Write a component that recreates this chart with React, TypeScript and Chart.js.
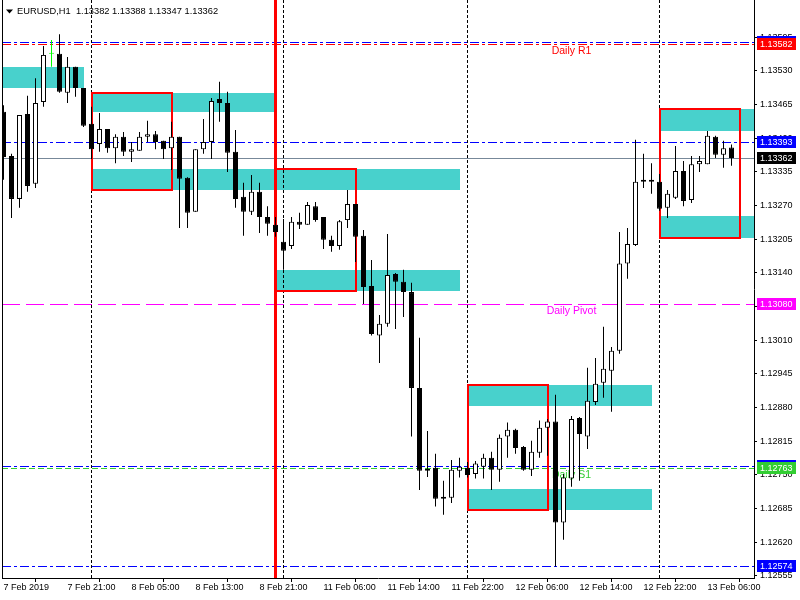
import React, { useEffect, useRef } from 'react';
import { Chart, registerables } from 'chart.js';

Chart.register(...registerables);

// ---------------- data ----------------
const symbolTitle = 'EURUSD,H1';

const timeLabels = [
  '7 Feb 2019', '7 Feb 21:00', '8 Feb 05:00', '8 Feb 13:00', '8 Feb 21:00', '11 Feb 06:00',
  '11 Feb 14:00', '11 Feb 22:00', '12 Feb 06:00', '12 Feb 14:00', '12 Feb 22:00', '13 Feb 06:00',
];
const timeLabelBars = [0, 8, 16, 24, 32, 40, 48, 56, 64, 72, 80, 88];

const opens = [
  1.13451, 1.13366, 1.13283, 1.13447, 1.13312, 1.13470, 1.13563, 1.13563, 1.13488, 1.13538,
  1.13497, 1.13428, 1.13389, 1.13418, 1.13381, 1.13403, 1.13374, 1.13376, 1.13403, 1.13408,
  1.13395, 1.13381, 1.13403, 1.13324, 1.13258, 1.13379, 1.13393, 1.13476, 1.13468, 1.13374,
  1.13287, 1.13258, 1.13297, 1.13248, 1.13233, 1.13200, 1.13192, 1.13239, 1.13233, 1.13269,
  1.13248, 1.13204, 1.13192, 1.13242, 1.13273, 1.13212, 1.13115, 1.13019, 1.13042, 1.13138,
  1.13123, 1.13103, 1.12918, 1.12762, 1.12764, 1.12708, 1.12706, 1.12758, 1.12764, 1.12752,
  1.12766, 1.12783, 1.12760, 1.12824, 1.12837, 1.12804, 1.12760, 1.12793, 1.12841, 1.12853,
  1.12658, 1.12743, 1.12860, 1.12824, 1.12891, 1.12928, 1.12951, 1.12990, 1.13158, 1.13194,
  1.13320, 1.13320, 1.13316, 1.13266, 1.13285, 1.13337, 1.13281, 1.13350, 1.13350, 1.13403,
  1.13368, 1.13382,
];
const highs = [
  1.13464, 1.13370, 1.13445, 1.13482, 1.13516, 1.13578, 1.13590, 1.13601, 1.13557, 1.13538,
  1.13497, 1.13461, 1.13449, 1.13418, 1.13408, 1.13412, 1.13393, 1.13412, 1.13434, 1.13414,
  1.13395, 1.13432, 1.13403, 1.13325, 1.13379, 1.13437, 1.13478, 1.13509, 1.13490, 1.13416,
  1.13314, 1.13329, 1.13314, 1.13269, 1.13248, 1.13244, 1.13248, 1.13256, 1.13277, 1.13277,
  1.13248, 1.13212, 1.13242, 1.13300, 1.13273, 1.13223, 1.13165, 1.13059, 1.13215, 1.13140,
  1.13146, 1.13121, 1.13015, 1.12835, 1.12791, 1.12739, 1.12779, 1.12783, 1.12775, 1.12777,
  1.12791, 1.12795, 1.12828, 1.12851, 1.12839, 1.12806, 1.12816, 1.12855, 1.12858, 1.12905,
  1.12752, 1.12864, 1.12862, 1.12957, 1.12976, 1.13036, 1.12997, 1.13219, 1.13227, 1.13397,
  1.13370, 1.13352, 1.13331, 1.13300, 1.13385, 1.13356, 1.13366, 1.13366, 1.13414, 1.13405,
  1.13395, 1.13388,
];
const lows = [
  1.13320, 1.13246, 1.13266, 1.13297, 1.13304, 1.13461, 1.13538, 1.13488, 1.13468, 1.13480,
  1.13422, 1.13360, 1.13374, 1.13372, 1.13352, 1.13366, 1.13354, 1.13376, 1.13393, 1.13379,
  1.13360, 1.13339, 1.13227, 1.13227, 1.13258, 1.13370, 1.13360, 1.13432, 1.13335, 1.13266,
  1.13212, 1.13252, 1.13217, 1.13212, 1.13210, 1.13146, 1.13186, 1.13225, 1.13233, 1.13239,
  1.13186, 1.13181, 1.13185, 1.13227, 1.13161, 1.13080, 1.13019, 1.12966, 1.13036, 1.13032,
  1.13055, 1.12824, 1.12721, 1.12746, 1.12689, 1.12673, 1.12696, 1.12745, 1.12745, 1.12743,
  1.12743, 1.12721, 1.12737, 1.12783, 1.12791, 1.12758, 1.12748, 1.12783, 1.12787, 1.12573,
  1.12625, 1.12727, 1.12739, 1.12800, 1.12885, 1.12899, 1.12872, 1.12984, 1.13129, 1.13192,
  1.13304, 1.13293, 1.13260, 1.13246, 1.13283, 1.13269, 1.13275, 1.13335, 1.13350, 1.13362,
  1.13343, 1.13347,
];
const closes = [
  1.13364, 1.13283, 1.13445, 1.13308, 1.13468, 1.13561, 1.13563, 1.13490, 1.13538, 1.13497,
  1.13424, 1.13379, 1.13418, 1.13381, 1.13403, 1.13374, 1.13379, 1.13403, 1.13408, 1.13393,
  1.13379, 1.13403, 1.13322, 1.13256, 1.13379, 1.13393, 1.13472, 1.13468, 1.13372, 1.13283,
  1.13258, 1.13297, 1.13248, 1.13235, 1.13219, 1.13183, 1.13239, 1.13233, 1.13271, 1.13242,
  1.13204, 1.13192, 1.13240, 1.13273, 1.13210, 1.13113, 1.13022, 1.13042, 1.13136, 1.13123,
  1.13103, 1.12918, 1.12758, 1.12758, 1.12704, 1.12704, 1.12760, 1.12766, 1.12750, 1.12772,
  1.12783, 1.12760, 1.12822, 1.12837, 1.12802, 1.12760, 1.12795, 1.12841, 1.12853, 1.12658,
  1.12745, 1.12858, 1.12829, 1.12893, 1.12926, 1.12955, 1.12990, 1.13158, 1.13196, 1.13316,
  1.13316, 1.13316, 1.13264, 1.13293, 1.13337, 1.13279, 1.13350, 1.13356, 1.13405, 1.13368,
  1.13381, 1.13362,
];

const priceTicks = [
  1.12555, 1.12620, 1.12685, 1.12750, 1.12815, 1.12880, 1.12945, 1.13010, 1.13075,
  1.13140, 1.13205, 1.13270, 1.13335, 1.13400, 1.13465, 1.13530, 1.13595,
];

// daily pivot levels
const pivotNames = ['Daily R1', 'Daily Pivot', 'Daily S1'];
const pivotLevels = [1.13582, 1.13080, 1.12763];
const pivotLabelBar = 71;

// other horizontal levels (blue dash-dot)
const blueLevels = [1.13586, 1.13393, 1.12768, 1.12574];

// filled zones (bar index from/to, price high/low)
const zoneFrom = [-2, 11, 11, 34, 58, 58, 82, 82];
const zoneTo = [10, 34, 57, 57, 81, 81, 100, 100];
const zoneHigh = [1.13538, 1.13488, 1.13341, 1.13146, 1.12924, 1.12723, 1.13457, 1.13249];
const zoneLow = [1.13498, 1.13450, 1.13300, 1.13105, 1.12883, 1.12683, 1.13414, 1.13208];

// red outlined boxes
const boxFrom = [11, 34, 58, 82];
const boxTo = [21, 44, 68, 92];
const boxHigh = [1.13488, 1.13341, 1.12924, 1.13457];
const boxLow = [1.13300, 1.13105, 1.12683, 1.13208];

// day separators and marker line (bar index)
const separatorBars = [11, 35, 58, 82];
const markerBar = 34;

// ---------------- view / style ----------------
const X_MIN = -0.1875;
const X_MAX = 93.8125;
const Y_MIN = 1.12551;
const Y_MAX = 1.13667;

const FONT = "'Liberation Sans', Arial, sans-serif";
const ZONE_FILL = '#48D1CC';
const RED = '#FF0000';
const BLUE = '#0000FF';
const MAGENTA = '#FF00FF';
const S1_GREEN = '#32CD32';
const LIME = '#00FF00';
const BID_GRAY = '#778899';
const DASHDOT = [9, 3, 3, 3];
const DASH = [18, 6];
const SHORT_DASH = [6, 3];
const DOT = [3, 2];

export default function App() {
  const ref = useRef<HTMLCanvasElement | null>(null);

  useEffect(() => {
    const canvas = ref.current;
    if (!canvas) return;
    const n = opens.length;
    const last = n - 1;

    const bodyFill = opens.map((o, i) => (closes[i] > o ? '#FFFFFF' : closes[i] < o ? '#000000' : LIME));
    const lineCol = opens.map((o, i) => (closes[i] === o ? LIME : '#000000'));

    const overlay = {
      id: 'mtOverlay',
      beforeDatasetsDraw(chart: any) {
        const { ctx, chartArea: a, scales } = chart;
        const px = (v: number) => scales.x.getPixelForValue(v);
        const py = (v: number) => scales.y.getPixelForValue(v);
        ctx.save();
        ctx.beginPath();
        ctx.rect(a.left, a.top, a.right - a.left, a.bottom - a.top);
        ctx.clip();

        // zones
        ctx.fillStyle = ZONE_FILL;
        for (let k = 0; k < zoneFrom.length; k++) {
          const x1 = Math.round(px(zoneFrom[k]));
          const x2 = Math.round(px(zoneTo[k]));
          const y1 = Math.round(py(zoneHigh[k]));
          const y2 = Math.round(py(zoneLow[k]));
          ctx.fillRect(x1, y1, x2 - x1, y2 - y1);
        }

        // day separators
        ctx.strokeStyle = '#000000';
        ctx.lineWidth = 1;
        ctx.setLineDash(DOT);
        separatorBars.forEach((b) => {
          const x = Math.floor(px(b)) + 0.5;
          ctx.beginPath();
          ctx.moveTo(x, a.top);
          ctx.lineTo(x, a.bottom);
          ctx.stroke();
        });

        // horizontal levels
        const hline = (v: number, color: string, dash: number[]) => {
          const y = Math.round(py(v)) + 0.5;
          ctx.strokeStyle = color;
          ctx.lineWidth = 1;
          ctx.setLineDash(dash);
          ctx.beginPath();
          ctx.moveTo(a.left, y);
          ctx.lineTo(a.right, y);
          ctx.stroke();
        };
        hline(closes[last], BID_GRAY, []);
        hline(pivotLevels[1], MAGENTA, DASH);
        hline(pivotLevels[2], S1_GREEN, SHORT_DASH);
        blueLevels.forEach((v) => hline(v, BLUE, DASHDOT));
        hline(pivotLevels[0], RED, DASHDOT);

        // pivot labels
        const pivotColors = [RED, MAGENTA, S1_GREEN];
        ctx.font = `10.5px ${FONT}`;
        ctx.textAlign = 'center';
        ctx.textBaseline = 'top';
        pivotNames.forEach((name, k) => {
          ctx.fillStyle = pivotColors[k];
          ctx.fillText(name, px(pivotLabelBar), Math.round(py(pivotLevels[k])) + 2);
        });

        // red boxes
        ctx.setLineDash([]);
        ctx.strokeStyle = RED;
        ctx.lineWidth = 2;
        for (let k = 0; k < boxFrom.length; k++) {
          const x1 = Math.round(px(boxFrom[k]));
          const x2 = Math.round(px(boxTo[k]));
          const y1 = Math.round(py(boxHigh[k]));
          const y2 = Math.round(py(boxLow[k]));
          ctx.strokeRect(x1, y1, x2 - x1, y2 - y1);
        }

        // marker vertical line
        ctx.lineWidth = 3;
        const mx = Math.floor(px(markerBar)) + 0.5;
        ctx.beginPath();
        ctx.moveTo(mx, a.top);
        ctx.lineTo(mx, a.bottom);
        ctx.stroke();
        ctx.restore();
      },
      afterDraw(chart: any) {
        const { ctx, chartArea: a, scales } = chart;
        const py = (v: number) => scales.y.getPixelForValue(v);
        ctx.save();
        // left frame line
        ctx.strokeStyle = '#000000';
        ctx.lineWidth = 1;
        ctx.beginPath();
        ctx.moveTo(a.left + 0.5, a.top);
        ctx.lineTo(a.left + 0.5, a.bottom);
        ctx.stroke();

        // header
        ctx.fillStyle = '#000000';
        ctx.beginPath();
        ctx.moveTo(6, 9.5);
        ctx.lineTo(13, 9.5);
        ctx.lineTo(9.5, 13.5);
        ctx.closePath();
        ctx.fill();
        ctx.font = `9.3px ${FONT}`;
        ctx.textAlign = 'left';
        ctx.textBaseline = 'alphabetic';
        const f = (v: number) => v.toFixed(5);
        ctx.fillText(
          `${symbolTitle}  ${f(opens[last])} ${f(highs[last])} ${f(lows[last])} ${f(closes[last])}`,
          17,
          14
        );

        // price tags on the axis
        const tags: [number, string][] = [
          [blueLevels[0], BLUE],
          [pivotLevels[0], RED],
          [blueLevels[1], BLUE],
          [closes[last], '#000000'],
          [pivotLevels[1], MAGENTA],
          [blueLevels[2], BLUE],
          [pivotLevels[2], S1_GREEN],
          [blueLevels[3], BLUE],
        ];
        ctx.font = `9px ${FONT}`;
        ctx.textBaseline = 'middle';
        tags.forEach(([v, color]) => {
          const cy = Math.round(py(v));
          ctx.fillStyle = color;
          ctx.fillRect(a.right + 3, cy - 6, 39, 12);
          ctx.fillStyle = '#FFFFFF';
          ctx.fillText(f(v), a.right + 6, cy + 0.5);
        });
        ctx.restore();
      },
    };

    const chart = new Chart(canvas, {
      type: 'bar',
      data: {
        datasets: [
          {
            label: 'body',
            data: opens.map((o, i) => ({ x: i, y: [o, closes[i]] })) as any,
            backgroundColor: bodyFill,
            borderColor: lineCol,
            borderWidth: 1,
            borderSkipped: false,
            barThickness: 5,
            minBarLength: 1,
            grouped: false,
            inflateAmount: 0,
            order: 0,
          } as any,
          {
            label: 'wick',
            data: lows.map((l, i) => ({ x: i, y: [l, highs[i]] })) as any,
            backgroundColor: lineCol,
            borderWidth: 0,
            barThickness: 1,
            grouped: false,
            inflateAmount: 0,
            order: 1,
          } as any,
        ],
      },
      options: {
        animation: false,
        responsive: false,
        maintainAspectRatio: false,
        devicePixelRatio: 1,
        events: [],
        layout: { padding: { left: 2, top: 0, right: 0, bottom: 0 }, autoPadding: false } as any,
        plugins: { legend: { display: false }, tooltip: { enabled: false } },
        scales: {
          x: {
            type: 'linear',
            position: 'bottom',
            min: X_MIN,
            max: X_MAX,
            bounds: 'data',
            offset: false,
            afterBuildTicks: (s: any) => {
              s.ticks = timeLabelBars.map((v) => ({ value: v }));
            },
            afterFit: (s: any) => {
              s.height = 22;
              s.paddingLeft = 0;
              s.paddingRight = 0;
              s.paddingTop = 0;
              s.paddingBottom = 0;
            },
            grid: { display: true, drawOnChartArea: false, drawTicks: true, tickLength: 4, color: '#000000', lineWidth: 1 },
            border: { display: true, color: '#000000', width: 1 },
            ticks: {
              autoSkip: false,
              maxRotation: 0,
              minRotation: 0,
              align: 'start',
              padding: 0,
              color: '#000000',
              font: { size: 9, family: FONT },
              callback: (_v: any, idx: number) => timeLabels[idx] ?? '',
            },
          } as any,
          y: {
            type: 'linear',
            position: 'right',
            min: Y_MIN,
            max: Y_MAX,
            bounds: 'data',
            afterBuildTicks: (s: any) => {
              s.ticks = priceTicks.map((v) => ({ value: v }));
            },
            afterFit: (s: any) => {
              s.width = 46;
              s.paddingLeft = 0;
              s.paddingRight = 0;
              s.paddingTop = 0;
              s.paddingBottom = 0;
            },
            grid: { display: true, drawOnChartArea: false, drawTicks: true, tickLength: 3, color: '#000000', lineWidth: 1 },
            border: { display: true, color: '#000000', width: 1 },
            ticks: {
              autoSkip: false,
              padding: 3,
              color: '#000000',
              font: { size: 9, family: FONT },
              callback: (v: any) => Number(v).toFixed(5),
            },
          } as any,
        },
      },
      plugins: [overlay],
    });

    return () => chart.destroy();
  }, []);

  return (
    <div style={{ position: 'fixed', left: 0, top: 0, width: 800, height: 600, background: '#FFFFFF' }}>
      <canvas ref={ref} width={800} height={600} style={{ display: 'block', width: 800, height: 600 }} />
    </div>
  );
}
